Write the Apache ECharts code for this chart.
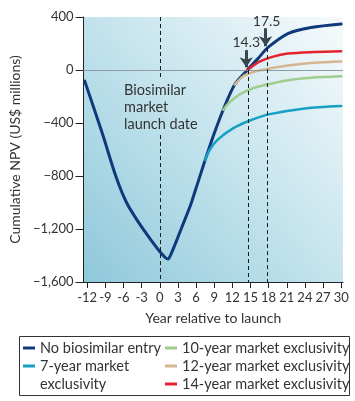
<!DOCTYPE html>
<html><head><meta charset="utf-8">
<script src="https://cdn.jsdelivr.net/npm/echarts@6/dist/echarts.min.js"></script>
<style>html,body{margin:0;padding:0;background:#fff}#c{width:355px;height:401px}</style>
</head><body><div id="c"></div>
<script>
// ---- data ----
const xTicks = [-12,-9,-6,-3,0,3,6,9,12,15,18,21,24,27,30];
const yTicks = [-1600,-1200,-800,-400,0,400];
const seriesNames = ['No biosimilar entry','7-year market exclusivity','10-year market exclusivity','12-year market exclusivity','14-year market exclusivity'];
const noEntry = [[-12.4,-84],[-9.5,-478],[-7.2,-810],[-5.5,-1000],[-3.5,-1150],[-1.5,-1280],[0,-1370],[0.9,-1415],[1.35,-1427],[1.9,-1385],[3,-1262],[4.1,-1135],[5.2,-1005],[6.3,-850],[7.5,-680],[9,-480],[10.5,-300],[12.4,-110],[14.5,0],[16.4,95],[18,174],[21.2,275],[25,320],[30,347]];
const excl7 = [[7.5,-680],[8.3,-600],[9.5,-529],[12.1,-441],[14.8,-383],[18,-335],[24,-290],[30,-272]];
const excl10 = [[10.5,-300],[11.5,-245],[13.2,-185],[15,-145],[17.5,-112],[21.2,-77],[25,-58],[30,-47]];
const excl12 = [[12.4,-110],[13.8,-47],[15.5,-15],[17.5,6],[21.2,34],[25.5,54],[30,64]];
const excl14 = [[14.5,0],[16.4,61],[18.6,99],[21.2,124],[25.5,136],[30,142]];
const launchYear = 0;
const crossA = 14.3, crossB = 17.5;

const FONT = 'Lato';
const TXT = '#333';
const colors = ['#0e3a7c','#16a1c3','#9ecd8c','#d5b690','#e2232b'];

const chart = echarts.init(document.getElementById('c'), null, {renderer:'canvas'});
const fmtY = v => (v < 0 ? '\u2212' : '') + Math.abs(v).toLocaleString('en-US');

function lineSeries(name, data, color, width, z) {
  return {name, type:'line', data, smooth:0.3, showSymbol:false, symbol:'none', z,
    lineStyle:{color, width, cap:'round', join:'round'}, itemStyle:{color}, emphasis:{disabled:true}};
}

const option = {
  animation:false,
  textStyle:{fontFamily:FONT, color:TXT},
  grid:{left:76, right:12, top:17, bottom:119, show:true, borderWidth:0,
    backgroundColor:new echarts.graphic.LinearGradient(0,1,1,0.1,[
      {offset:0,color:'#8fc8da'},{offset:0.5,color:'#c1e2ec'},{offset:1,color:'#f3f9fb'}])},
  xAxis:{type:'value', min:-12.6, max:30.3,
    name:'Year relative to launch', nameLocation:'middle', nameGap:29,
    nameTextStyle:{fontSize:14, color:TXT, fontFamily:FONT},
    axisLine:{show:true, onZero:false, lineStyle:{color:'#222', width:1}},
    axisTick:{show:true, length:6, customValues:xTicks, lineStyle:{color:'#222'}},
    axisLabel:{customValues:xTicks, fontSize:13, color:TXT, margin:9, fontFamily:FONT},
    splitLine:{show:false}},
  yAxis:{type:'value', min:-1600, max:400, interval:400,
    name:'Cumulative NPV (US$ millions)', nameLocation:'middle', nameGap:45, nameRotate:90,
    nameTextStyle:{fontSize:14, color:TXT, fontFamily:FONT},
    axisLine:{show:true, onZero:false, lineStyle:{color:'#222', width:1}},
    axisTick:{show:true, length:8, lineStyle:{color:'#222'}},
    axisLabel:{formatter:fmtY, fontSize:13, color:TXT, margin:10, fontFamily:FONT},
    splitLine:{show:false}},
  legend:[
    {left:23, top:339, orient:'vertical', padding:0, itemGap:0, itemWidth:12, itemHeight:3, icon:'rect',
     data:[seriesNames[0], seriesNames[1]], selectedMode:false,
     formatter: n => n === seriesNames[1] ? '7-year market' : n,
     textStyle:{fontSize:14.5, lineHeight:18, color:TXT, fontFamily:FONT}},
    {left:165, top:339, orient:'vertical', padding:0, itemGap:0, itemWidth:12, itemHeight:3, icon:'rect',
     data:seriesNames.slice(2), selectedMode:false,
     textStyle:{fontSize:14.5, lineHeight:18, color:TXT, fontFamily:FONT}}
  ],
  series:[
    {name:'annot', type:'line', data:[], z:1, silent:true,
     markLine:{silent:true, symbol:['none','none'], label:{show:false}, animation:false,
       lineStyle:{color:'#8c9ba5', width:1, type:'solid'},
       data:[{yAxis:0}]}},
    lineSeries(seriesNames[1], excl7, colors[1], 2.5, 3),
    lineSeries(seriesNames[2], excl10, colors[2], 2.5, 3),
    lineSeries(seriesNames[3], excl12, colors[3], 2.5, 3),
    lineSeries(seriesNames[4], excl14, colors[4], 2.5, 3),
    Object.assign(lineSeries(seriesNames[0], noEntry, colors[0], 3, 2), {
      markLine:{silent:true, symbol:['none','none'], label:{show:false}, animation:false,
        lineStyle:{color:'#1a1a1a', width:1, type:[4,3]},
        data:[
          [{coord:[launchYear,400]},{coord:[launchYear,-55]}],
          [{coord:[launchYear,-491]},{coord:[launchYear,-1600]}],
          [{coord:[14.6,0]},{coord:[14.6,-1600]}],
          [{coord:[17.8,165]},{coord:[17.8,-1600]}]
        ]}}),
    {name:'arrows', type:'line', data:[], z:6, silent:true,
     markLine:{silent:true, symbol:['none','arrow'], symbolSize:[10,10], label:{show:false}, animation:false,
       lineStyle:{color:'#37474f', width:3, type:'solid'},
       data:[
         [{coord:[crossA,150]},{coord:[crossA,20]}],
         [{coord:[crossB,315]},{coord:[crossB,180]}]
       ]}}
  ]
};
chart.setOption(option);

const pA = chart.convertToPixel({gridIndex:0}, [crossA, 150]);
const pB = chart.convertToPixel({gridIndex:0}, [crossB, 315]);
const pT = chart.convertToPixel({gridIndex:0}, [-5.9, -90]);
chart.setOption({graphic:[
  {type:'rect', shape:{x:19.5, y:336.5, width:330, height:59}, style:{fill:'none', stroke:'#333', lineWidth:1}, silent:true},
  {type:'text', x:40, y:384, style:{text:'exclusivity', fontSize:14.5, fill:TXT, fontFamily:FONT, verticalAlign:'middle'}, silent:true},
  {type:'text', x:pA[0], y:pA[1]-8, style:{text:String(crossA), fontSize:14, fill:TXT, fontFamily:FONT, align:'center', verticalAlign:'middle'}, silent:true},
  {type:'text', x:pB[0]+1, y:pB[1]-7, style:{text:String(crossB), fontSize:14, fill:TXT, fontFamily:FONT, align:'center', verticalAlign:'middle'}, silent:true},
  {type:'text', x:pT[0], y:pT[1], style:{text:'Biosimilar\nmarket\nlaunch date', fontSize:14.5, lineHeight:17, fill:TXT, fontFamily:FONT, align:'left', verticalAlign:'top'}, silent:true}
]});
</script></body></html>
